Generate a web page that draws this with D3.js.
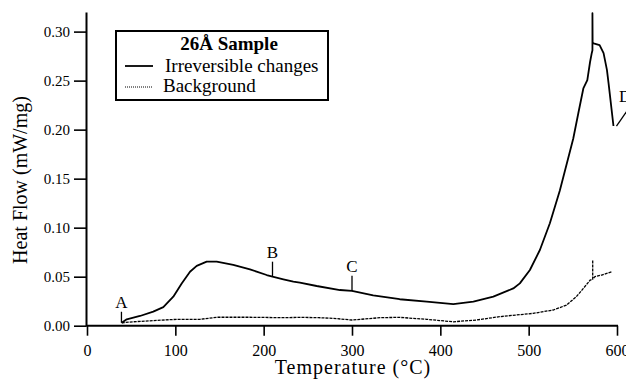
<!DOCTYPE html>
<html>
<head>
<meta charset="utf-8">
<script src="https://cdn.jsdelivr.net/npm/d3@7/dist/d3.min.js"></script>
<style>
  html, body { margin: 0; padding: 0; background: #fff; }
  svg { display: block; }
  text { font-family: "Liberation Serif", "Times New Roman", serif; fill: #000; }
</style>
</head>
<body>
<svg id="chart" width="626" height="381"></svg>
<script>
// DSC heat flow traces, 26Å sample (temperature in °C, heat flow in mW/mg)
const irrevTemp = [39.3, 45, 60, 75, 86.4, 97.7, 107.2, 116.6, 124.2, 135.5, 146.8, 165.6, 184.5,
  203.4, 210, 222.3, 233.6, 241, 260, 286.4, 300, 324, 354, 384.6, 414.7, 437.4, 460, 482.6, 490,
  501.4, 512.7, 524, 535.3, 550.5, 556.2, 561.9, 566.4, 569.5, 571.4, 572.2, 572.2, 572.4, 573.5,
  580.3, 584.8, 588.6, 590.5, 596];
const irrevFlow = [0.003, 0.0065, 0.0099, 0.0143, 0.019, 0.0296, 0.043, 0.055, 0.061, 0.0653, 0.0653,
  0.062, 0.0575, 0.0517, 0.050, 0.0473, 0.0449, 0.0439, 0.0405, 0.0364, 0.0356, 0.031, 0.027, 0.0245,
  0.0221, 0.0245, 0.0296, 0.038, 0.0432, 0.0568, 0.0772, 0.1045, 0.138, 0.191, 0.2167, 0.242, 0.2506,
  0.269, 0.278, 0.281, 0.3187, 0.289, 0.288, 0.2863, 0.278, 0.261, 0.247, 0.2037];

const bgTemp = [39.3, 52.4, 71.3, 101.5, 127.9, 146.8, 184.5, 222, 241, 262, 278.8, 300, 332, 354,
  384.6, 414.7, 441, 467, 505, 527.7, 542.8, 554, 561.9, 569.7, 572.5, 572.5, 572.5, 575, 582.7,
  588.4, 594];
const bgFlow = [0.003, 0.004, 0.005, 0.0065, 0.0065, 0.0086, 0.0086, 0.0082, 0.0085, 0.0082, 0.0075,
  0.0058, 0.0082, 0.0085, 0.0065, 0.004, 0.0058, 0.0092, 0.0126, 0.016, 0.021, 0.0296, 0.038, 0.0466,
  0.0475, 0.067, 0.0475, 0.050, 0.0517, 0.0534, 0.055];

const xTicks = [0, 100, 200, 300, 400, 500, 600];
const yTicks = [0, 0.05, 0.10, 0.15, 0.20, 0.25, 0.30];

// Event markers along the irreversible trace
const markerLabels = ["A", "B", "C"];
const markerTemps = [39, 210, 300];

const serif = "Liberation Serif, Times New Roman, serif";
const svg = d3.select("#chart");

const x = d3.scaleLinear().domain([0, 600]).range([87, 617]);
const y = d3.scaleLinear().domain([0, 0.32]).range([325.7, 12]);

// Axes
const xAxis = svg.append("g")
  .attr("transform", `translate(0,${y(0)})`)
  .call(d3.axisBottom(x).tickValues(xTicks).tickSize(10).tickSizeOuter(0).tickPadding(9)
    .tickFormat(d3.format("d")))
  .attr("font-family", serif).attr("font-size", 16);
xAxis.select(".domain").attr("stroke-width", 2).attr("d", `M${x(0) - 1},0H${x(600) + 1}`);
xAxis.selectAll(".tick line").attr("stroke-width", 1.6);
xAxis.selectAll(".tick text").attr("font-family", serif).style("font-family", serif).style("font-size", "16px");

const yAxis = svg.append("g")
  .attr("transform", `translate(${x(0) - 1},0)`)
  .call(d3.axisLeft(y).tickValues(yTicks).tickSize(12).tickSizeOuter(0).tickPadding(4)
    .tickFormat(d3.format(".2f")))
  .attr("font-family", serif).attr("font-size", 15);
yAxis.select(".domain").attr("stroke-width", 2);
yAxis.selectAll(".tick line").attr("stroke-width", 1.6);
yAxis.selectAll(".tick text").attr("font-family", serif).style("font-family", serif).style("font-size", "15px");

// Axis titles
svg.append("text")
  .attr("x", 353).attr("y", 374)
  .attr("text-anchor", "middle")
  .style("font-size", "20px").style("letter-spacing", "1px")
  .text("Temperature (°C)");

svg.append("text")
  .attr("transform", "translate(27,180) rotate(-90)")
  .attr("text-anchor", "middle")
  .style("font-size", "20px")
  .text("Heat Flow (mW/mg)");

// Traces
const line = d3.line().x(d => x(d[0])).y(d => y(d[1]));
const irrev = irrevTemp.map((t, i) => [t, irrevFlow[i]]);
const bg = bgTemp.map((t, i) => [t, bgFlow[i]]);

svg.append("path").datum(bg)
  .attr("d", line).attr("fill", "none").attr("stroke", "#000")
  .attr("stroke-width", 1.3).attr("stroke-dasharray", "3,1")
  .attr("stroke-linejoin", "round");

svg.append("path").datum(irrev)
  .attr("d", line).attr("fill", "none").attr("stroke", "#000")
  .attr("stroke-width", 1.8).attr("stroke-linejoin", "round");

// Marker ticks and letters placed on the irreversible trace
const interp = t => {
  const i = d3.bisector(d => d).left(irrevTemp, t);
  if (i <= 0) return irrevFlow[0];
  const t0 = irrevTemp[i - 1], t1 = irrevTemp[i];
  const f = (t - t0) / (t1 - t0);
  return irrevFlow[i - 1] + f * (irrevFlow[i] - irrevFlow[i - 1]);
};
markerTemps.forEach((t, i) => {
  const py = y(interp(t));
  const top = i === 0 ? py - 11 : py - 15;
  svg.append("line")
    .attr("x1", x(t)).attr("x2", x(t))
    .attr("y1", top).attr("y2", py)
    .attr("stroke", "#000").attr("stroke-width", 1.3);
  svg.append("text")
    .attr("x", x(t)).attr("y", top - 4)
    .attr("text-anchor", "middle")
    .style("font-size", "17px")
    .text(markerLabels[i]);
});

// "D" label with leader to the dip after the main peak
const dipT = irrevTemp[irrevTemp.length - 1];
const dipV = irrevFlow[irrevFlow.length - 1];
svg.append("line")
  .attr("x1", x(dipT) + 3).attr("y1", y(dipV))
  .attr("x2", 627).attr("y2", y(dipV) - 15)
  .attr("stroke", "#000").attr("stroke-width", 1.3);
svg.append("text")
  .attr("x", 619).attr("y", 102)
  .style("font-size", "17px")
  .text("D");

// Legend
const lg = svg.append("g");
lg.append("rect")
  .attr("x", 116).attr("y", 31).attr("width", 212).attr("height", 69)
  .attr("fill", "#fff").attr("stroke", "#000").attr("stroke-width", 2);
lg.append("text")
  .attr("x", 229).attr("y", 50).attr("text-anchor", "middle")
  .style("font-size", "19px").style("font-weight", "bold")
  .text("26Å Sample");
lg.append("line")
  .attr("x1", 125).attr("x2", 153).attr("y1", 66).attr("y2", 66)
  .attr("stroke", "#000").attr("stroke-width", 1.8);
lg.append("text")
  .attr("x", 165).attr("y", 72)
  .style("font-size", "19px")
  .text("Irreversible changes");
lg.append("line")
  .attr("x1", 125).attr("x2", 153).attr("y1", 87).attr("y2", 87)
  .attr("stroke", "#000").attr("stroke-width", 1).attr("stroke-dasharray", "1,1");
lg.append("text")
  .attr("x", 163).attr("y", 92)
  .style("font-size", "19px")
  .text("Background");
</script>
</body>
</html>
